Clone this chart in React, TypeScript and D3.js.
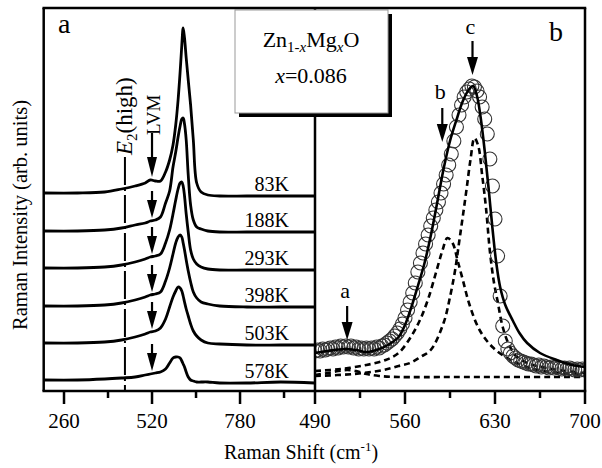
import React from 'react';
import * as d3 from 'd3';

// ---------- Panel a : temperature series ----------
const shiftA = [200, 300, 380, 430, 470, 500, 515, 530, 545, 560, 572, 582, 590, 597, 603, 608, 612, 616, 621, 627, 634, 642, 652, 665, 685, 720, 800, 900, 1000];
const temperatures = ['83K', '188K', '293K', '398K', '503K', '578K'];
const spec83K = [198, 198, 199, 202, 205, 208, 211, 210, 210, 219, 231, 246, 266, 291, 319, 346, 363, 353, 333, 311, 286, 251, 208, 199, 196, 195, 195, 195, 195];
const spec188K = [160, 160, 161, 163, 166, 168, 170, 171, 174, 188, 200, 224, 239, 254, 265, 272, 273, 267, 251, 216, 186, 171, 164, 162, 160, 159, 159, 159, 159];
const spec293K = [123, 123, 124, 126, 129, 132, 134, 135, 137, 148, 161, 177, 191, 202, 208, 209, 205, 195, 177, 159, 141, 132, 127, 124, 122, 121, 121, 121, 121];
const spec398K = [85, 85, 86, 88, 91, 94, 96, 97, 99, 110, 123, 137, 148, 154, 156, 154, 148, 141, 131, 120, 109, 99, 93, 89, 87, 85, 84, 84, 84];
const spec503K = [48, 48, 49, 51, 54, 57, 59, 60, 63, 72, 84, 94, 100, 104, 103, 100, 95, 89, 82, 75, 67, 60, 55, 51, 48, 47, 46, 46, 46];
const spec578K = [11, 11, 12, 13, 14, 16, 17, 18, 19, 22, 28, 33, 34, 34, 33, 30, 27, 24, 19, 14, 11, 10, 9, 9, 9, 8, 8, 9, 8];
const spectraA = [spec83K, spec188K, spec293K, spec398K, spec503K, spec578K];
const e2High = 440;
const lvm = 520;
const ticksA = [260, 520, 780];
const minorTicksA = [390, 650, 910];

// ---------- Panel b : x = 0.086 fit ----------
const shiftB = [490, 492, 494, 496, 498, 500, 502, 504, 506, 508, 510, 512, 514, 516, 518, 520, 522, 524, 526, 528, 530, 532, 534, 536, 538, 540, 542, 544, 546, 548, 550, 552, 554, 556, 558, 560, 562, 564, 566, 568, 570, 572, 574, 576, 578, 580, 582, 584, 586, 588, 590, 592, 594, 596, 598, 600, 602, 604, 606, 608, 610, 612, 614, 616, 618, 620, 622, 624, 626, 628, 630, 632, 634, 636, 638, 640, 642, 644, 646, 648, 650, 652, 654, 656, 658, 660, 662, 664, 666, 668, 670, 672, 674, 676, 678, 680, 682, 684, 686, 688, 690, 692, 694, 696, 698, 700];
const measured = [40, 41, 40, 42, 41, 42, 43, 42, 44, 43, 45, 44, 45, 44, 45, 43, 44, 42, 43, 42, 43, 42, 43, 42, 44, 43, 45, 46, 48, 50, 52, 55, 58, 62, 67, 73, 81, 89, 98, 108, 119, 128, 138, 147, 156, 165, 173, 181, 189, 198, 207, 216, 226, 237, 250, 264, 276, 286, 294, 299, 302, 305, 304, 300, 294, 284, 272, 257, 232, 205, 172, 135, 95, 65, 50, 42, 38, 35, 33, 31, 30, 29, 28, 27, 27, 26, 25, 26, 24, 25, 24, 23, 24, 23, 24, 23, 22, 23, 22, 23, 22, 21, 22, 21, 22, 21];
const fitShift = [490, 500, 513, 522, 530, 540, 548, 555, 560, 565, 570, 575, 580, 585, 590, 595, 600, 605, 610, 613, 616, 619, 622, 625, 628, 631, 634, 638, 644, 649, 655, 665, 678, 690, 700];
const fitTotal = [38, 40, 42, 41, 39, 42, 47, 54, 66, 84, 105, 127, 155, 188, 222, 250, 271, 290, 302, 305, 295, 272, 240, 203, 163, 128, 104, 86, 70, 58, 48, 38, 31, 26, 24];
const peakAShift = [490, 500, 508, 515, 522, 530, 540, 555, 600, 700];
const peakA = [16, 18, 20, 21, 20, 17, 15, 14, 14, 14];
const peakBShift = [490, 510, 530, 545, 555, 565, 572, 578, 584, 589, 593, 597, 601, 605, 610, 618, 628, 642, 660, 680, 700];
const peakB = [20, 22, 26, 31, 38, 55, 72, 92, 118, 140, 153, 148, 130, 111, 87, 61, 44, 31, 22, 18, 16];
const peakCShift = [490, 520, 543, 555, 564, 572, 580, 590, 595, 599, 602, 605, 608, 611, 614, 617, 620, 623, 626, 629, 632, 636, 641, 647, 657, 670, 685, 700];
const peakC = [15, 17, 21, 25, 28, 34, 41, 68, 94, 121, 148, 175, 203, 232, 253, 245, 216, 183, 140, 110, 90, 64, 46, 34, 27, 23, 20, 18];
const peakLabels = ['a', 'b', 'c'];
const peakPositions = [515, 589, 612.5];
const ticksB = [490, 560, 630, 700];
const minorTicksB = [525, 595, 665];

const FONT = "'Liberation Serif', 'Times New Roman', Times, serif";

function Arrow({ x, y0, y1, hl = 17, hw = 10 }: { x: number; y0: number; y1: number; hl?: number; hw?: number }) {
  return (
    <g>
      <line x1={x} x2={x} y1={y0} y2={y1 - hl + 2} stroke="#000" strokeWidth={2.2} />
      <path d={`M${x - hw / 2},${y1 - hl} L${x + hw / 2},${y1 - hl} L${x},${y1} Z`} fill="#000" />
    </g>
  );
}

export default function App() {
  const L = 43.7, M = 315, R = 585, T = 8, B = 391;
  const xA = d3.scaleLinear().domain([200, 1000]).range([L, 314.5]);
  const xB = d3.scaleLinear().domain([490, 700]).range([M, R]);
  const y = d3.scaleLinear().domain([0, 383]).range([B, T]);

  const lineA = (vals: number[]) =>
    d3.line<number>().x((_, i) => xA(shiftA[i])).y((d) => y(d)).curve(d3.curveCatmullRom.alpha(0.5))(vals) || '';
  const lineB = (xs: number[], vals: number[]) =>
    d3.line<number>().x((_, i) => xB(xs[i])).y((d) => y(d)).curve(d3.curveCatmullRom.alpha(0.5))(vals) || '';

  const arrowTipsA = spectraA.map((s) => y(s[6]) - 3);
  const arrowTopsA = arrowTipsA.map((t, i) => (i === 0 ? 133 : t - 27));
  const peakTips = [340, 142, 75];
  const peakLabelY = [298, 99, 34];

  return (
    <svg width={602} height={468} style={{ position: 'absolute', left: 0, top: 0, background: '#fff' }} fontFamily={FONT}>
      <defs>
        <clipPath id="clipB">
          <rect x={M} y={T} width={R - M} height={B - T} />
        </clipPath>
        <clipPath id="clipA">
          <rect x={L} y={T} width={M - L} height={B - T} />
        </clipPath>
      </defs>
      <rect x={0} y={0} width={602} height={468} fill="#fff" />

      {/* Panel a */}
      <line x1={xA(e2High)} x2={xA(e2High)} y1={157} y2={B} stroke="#000" strokeWidth={2} strokeDasharray="28,4,2,4" />
      <g clipPath="url(#clipA)">
        {spectraA.map((s, i) => (
          <path key={temperatures[i]} d={lineA(s)} fill="none" stroke="#000" strokeWidth={2.8} strokeLinejoin="round" />
        ))}
      </g>
      {spectraA.map((s, i) => (
        <Arrow key={'ar' + i} x={xA(lvm)} y0={arrowTopsA[i]} y1={arrowTipsA[i]} hl={i === 0 ? 20 : 18} hw={10} />
      ))}
      {spectraA.map((s, i) => (
        <text key={'t' + i} x={289} y={y(s[s.length - 1]) - 5} fontSize={20} textAnchor="end">
          {temperatures[i]}
        </text>
      ))}
      <text transform={`translate(${xA(e2High) + 7},155) rotate(-90)`} fontSize={23}>
        <tspan fontStyle="italic">E</tspan>
        <tspan fontSize={15} dy={5}>2</tspan>
        <tspan dy={-5}>(high)</tspan>
      </text>
      <text transform={`translate(${xA(lvm) + 8},135) rotate(-90)`} fontSize={19}>LVM</text>
      <text x={58} y={33} fontSize={28}>a</text>

      {/* Panel b */}
      <g clipPath="url(#clipB)">
        {[
          [peakAShift, peakA],
          [peakBShift, peakB],
          [peakCShift, peakC],
        ].map(([xs, vs], i) => (
          <path key={'c' + i} d={lineB(xs, vs)} fill="none" stroke="#000" strokeWidth={2.6} strokeDasharray="6,4" />
        ))}
        {measured.map((v, i) => (
          <circle key={'m' + i} cx={xB(shiftB[i])} cy={y(v)} r={7} fill="none" stroke="#333" strokeWidth={1.1} />
        ))}
        <path d={lineB(fitShift, fitTotal)} fill="none" stroke="#000" strokeWidth={2.6} />
      </g>
      {peakLabels.map((lab, i) => (
        <g key={'p' + lab}>
          <Arrow x={xB(peakPositions[i])} y0={peakTips[i] - 34} y1={peakTips[i]} hl={18} hw={11} />
          <text x={xB(peakPositions[i]) - 2} y={peakLabelY[i]} fontSize={22} textAnchor="middle">{lab}</text>
        </g>
      ))}
      <text x={549} y={41} fontSize={28}>b</text>

      {/* Frames */}
      <g stroke="#000" strokeWidth={2.5} fill="none">
        <line x1={L} x2={L} y1={T} y2={B} />
        <line x1={M} x2={M} y1={T} y2={B} />
        <line x1={R} x2={R} y1={T} y2={B} />
        <line x1={L - 1.25} x2={R + 1.25} y1={B} y2={B} />
      </g>

      {/* Legend box */}
      <rect x={239} y={14} width={153} height={103} fill="#000" />
      <rect x={235} y={10} width={153} height={103} fill="#fff" stroke="#999" strokeWidth={1} />
      <line x1={L - 1.25} x2={R + 1.25} y1={T} y2={T} stroke="#000" strokeWidth={2.5} />
      <text x={311} y={47} fontSize={22} textAnchor="middle">
        Zn<tspan fontSize={15} dy={5}>1-</tspan><tspan fontSize={15} fontStyle="italic">x</tspan>
        <tspan dy={-5}>Mg</tspan><tspan fontSize={15} dy={5} fontStyle="italic">x</tspan><tspan dy={-5}>O</tspan>
      </text>
      <text x={311} y={83} fontSize={22} textAnchor="middle">
        <tspan fontStyle="italic">x</tspan>=0.086
      </text>

      {/* Axes ticks */}
      <g stroke="#000" strokeWidth={2.5}>
        {ticksA.map((t) => (
          <line key={'ta' + t} x1={xA(t)} x2={xA(t)} y1={B} y2={B + 13} />
        ))}
        {minorTicksA.map((t) => (
          <line key={'ma' + t} x1={xA(t)} x2={xA(t)} y1={B} y2={B + 7} />
        ))}
        {ticksB.map((t) => (
          <line key={'tb' + t} x1={xB(t)} x2={xB(t)} y1={B} y2={B + 13} />
        ))}
        {minorTicksB.map((t) => (
          <line key={'mb' + t} x1={xB(t)} x2={xB(t)} y1={B} y2={B + 7} />
        ))}
      </g>
      {ticksA.map((t) => (
        <text key={'la' + t} x={xA(t)} y={428} fontSize={21} textAnchor="middle">{t}</text>
      ))}
      {ticksB.map((t) => (
        <text key={'lb' + t} x={xB(t)} y={428} fontSize={21} textAnchor="middle">{t}</text>
      ))}

      {/* Axis titles */}
      <text x={301} y={459} fontSize={20} textAnchor="middle">
        Raman Shift (cm<tspan fontSize={13} dy={-8}>-1</tspan><tspan dy={8}>)</tspan>
      </text>
      <text transform="translate(27,215) rotate(-90)" fontSize={20.5} textAnchor="middle">
        Raman Intensity (arb. units)
      </text>
    </svg>
  );
}
